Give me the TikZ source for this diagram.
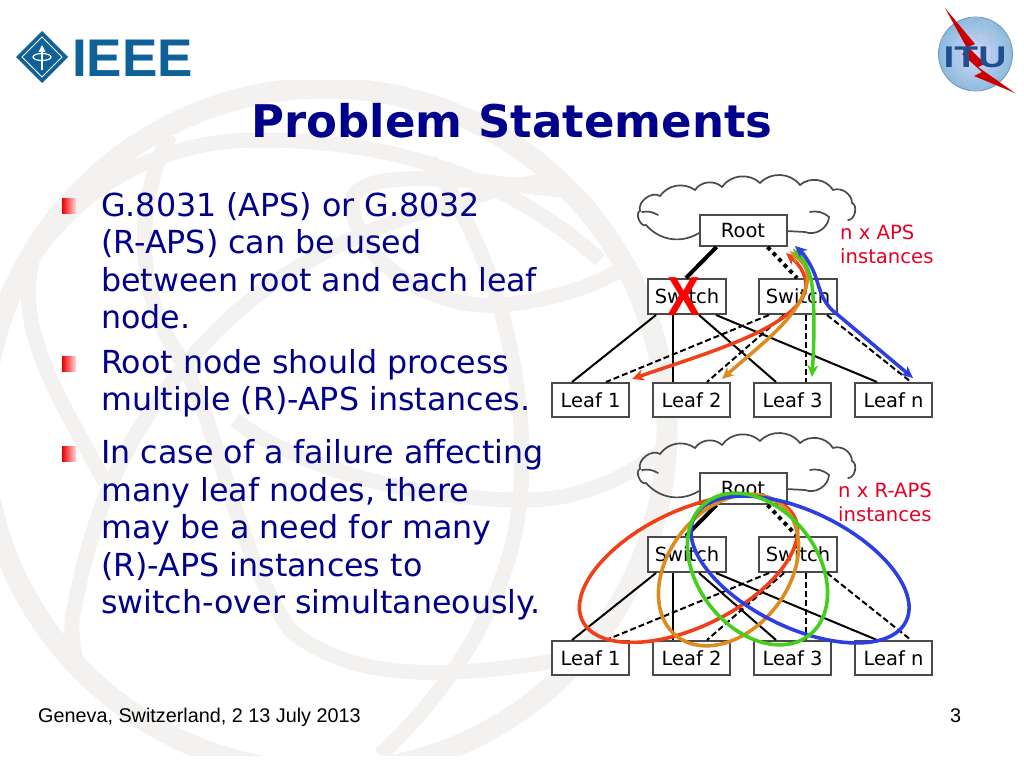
\documentclass[tikz,border=0pt]{standalone}
\usepackage{fontspec}
\setmainfont{DejaVu Sans}
\newfontfamily\arialf{Liberation Sans}
\usetikzlibrary{arrows.meta,calc}
\definecolor{bgband}{HTML}{F3F2F0}
\definecolor{bodyblue}{HTML}{00008C}
\definecolor{boxgray}{HTML}{4A4A4A}
\definecolor{lblred}{HTML}{E60026}
\definecolor{arrred}{HTML}{F0401A}
\definecolor{arrorange}{HTML}{DC8C1E}
\definecolor{arrgreen}{HTML}{44CF1E}
\definecolor{arrblue}{HTML}{2D3FE0}
\definecolor{ieeeblue}{HTML}{0F6199}
\definecolor{itublue}{HTML}{1F4F8F}
\tikzset{
  x=1pt,y=-1pt,
  band/.style={draw=bgband,line width=19pt,line cap=butt},
  bodytext/.style={anchor=base west,inner sep=0,yshift=-1pt,text=bodyblue,font=\fontsize{31.7}{38}\selectfont},
  foot/.style={anchor=base west,inner sep=0,text=black,font=\arialf\fontsize{19.8}{24}\selectfont},
  rootbox/.style={draw=boxgray,line width=2pt,fill=white,inner sep=0,minimum width=87pt,minimum height=31pt,font=\fontsize{19.5}{24}\selectfont},
  switchbox/.style={rootbox,minimum width=78pt,minimum height=35pt},
  leafbox/.style={rootbox,minimum width=77pt,minimum height=34pt},
  cloudline/.style={draw=boxgray,line width=1.7pt,line cap=round},
  solidlink/.style={draw=black,line width=2pt},
  dashlink/.style={draw=black,line width=2pt,dash pattern=on 6pt off 3pt},
  thicklink/.style={draw=black,line width=4pt},
  dotlink/.style={draw=black,line width=4pt,dash pattern=on 4pt off 4pt},
  inst/.style={anchor=base west,inner sep=0,text=lblred,font=\fontsize{19.6}{24}\selectfont},
  flow/.style={line width=3.5pt,{Stealth[length=12pt,width=11pt]}-{Stealth[length=12pt,width=11pt]}},
  ring/.style={line width=3.6pt},
  bullet/.style={inner sep=0,minimum width=14pt,minimum height=15pt,left color=red!92!black,right color=red!15,draw=none},
}
\newcommand{\netw}[3]{%
\begin{scope}[yshift=#2pt,name prefix=#1-]
  \draw[cloudline] (699,233) to[bend left=40] (646,225) to[bend left=95] (640,211)
    to[bend left=70] (660,196) to[bend left=45] (695,190) to[bend left=50] (722,187)
    to[bend left=50] (760,183) to[bend left=50] (800,185) to[bend left=50] (833,190)
    to[bend left=55] (852,203) to[bend left=80] (848,220);
  \draw[cloudline] (810,212) to[bend left=25] (829,217) to[bend left=55] (805,232) -- (786,231);
  \draw[cloudline] (658,215) to[bend right=20] (642,212);
  \node[rootbox] (root) at (743,#3) {Root};
  \node[switchbox] (s1) at (687,296.5) {Switch};
  \node[switchbox] (s2) at (798,296.5) {Switch};
  \node[leafbox] (l1) at (590.5,400) {Leaf 1};
  \node[leafbox] (l2) at (691.5,400) {Leaf 2};
  \node[leafbox] (l3) at (792.5,400) {Leaf 3};
  \node[leafbox] (ln) at (893.5,400) {Leaf n};
  \draw[thicklink] ([xshift=18pt]root.south west) -- ([xshift=39pt]s1.north west);
  \draw[dotlink] ([xshift=69pt]root.south west) -- ([xshift=39pt]s2.north west);
  \draw[solidlink] ([xshift=9pt]s1.south west) -- ([xshift=21pt]l1.north west);
  \draw[solidlink] ([xshift=26pt]s1.south west) -- ([xshift=21pt]l2.north west);
  \draw[solidlink] ([xshift=52pt]s1.south west) -- ([xshift=23pt]l3.north west);
  \draw[solidlink] ([xshift=69pt]s1.south west) -- ([xshift=23pt]ln.north west);
  \draw[dashlink] ([xshift=11pt]s2.south west) -- ([xshift=55pt]l1.north west);
  \draw[dashlink] ([xshift=26pt]s2.south west) -- ([xshift=55pt]l2.north west);
  \draw[dashlink] ([xshift=48pt]s2.south west) -- ([xshift=53pt]l3.north west);
  \draw[dashlink] ([xshift=69pt]s2.south west) -- ([xshift=57pt]ln.north west);
\end{scope}}
\begin{document}
\begin{tikzpicture}
\useasboundingbox (0,0) rectangle (1024,768);
\fill[white] (0,0) rectangle (1024,768);
% background globe
\begin{scope}
  \clip (-5,80) rectangle (700,755);
  \draw[band,line width=21pt] (325,430) circle[radius=342];
  \clip (325,430) circle[radius=342];
  \draw[band,line width=15pt] (30,262) .. controls (90,170) and (180,140) .. (260,140) .. controls (380,140) and (500,170) .. (600,260);
  \draw[band,line width=15pt] (600,170) .. controls (420,200) and (280,250) .. (190,360) .. controls (120,440) and (90,520) .. (72,620) .. controls (70,670) and (95,720) .. (125,755);
  \draw[band,line width=15pt] (600,195) .. controls (480,180) and (360,165) .. (352,200) .. controls (350,250) and (420,310) .. (500,305) .. controls (560,300) and (620,280) .. (660,240);
  \draw[band,line width=15pt] (170,135) .. controls (140,190) and (130,280) .. (175,350) .. controls (220,420) and (230,540) .. (290,630) .. controls (350,680) and (440,680) .. (560,660);
  \draw[band,line width=15pt] (32,262) .. controls (15,330) and (60,400) .. (105,482);
  \draw[band,line width=15pt] (-5,540) .. controls (30,610) and (90,700) .. (170,755);
  \draw[band,line width=15pt] (235,420) .. controls (300,470) and (420,500) .. (525,500) .. controls (590,500) and (640,470) .. (690,430);
  \draw[band,line width=15pt] (430,160) .. controls (500,260) and (530,390) .. (520,500) .. controls (510,600) and (450,690) .. (380,755);
\end{scope}
% IEEE logo
\fill[ieeeblue] (42,31) -- (68,57) -- (42,83) -- (16,57) -- cycle;
\draw[white,line width=1pt] (42,37) -- (62,57) -- (42,77) -- (22,57) -- cycle;
\draw[white,line width=1.5pt] (42,70) -- (42,50);
\fill[white] (42,45) -- (45.5,52) -- (38.5,52) -- cycle;
\draw[white,line width=1.2pt] (42,57) ellipse[x radius=9,y radius=3.5];
\node[anchor=base west,inner sep=0,text=ieeeblue,font=\arialf\bfseries\fontsize{53}{60}\selectfont] (ieee) at (72,77) {IEEE};
% ITU logo
\shade[inner color=white!85!blue,outer color=blue!40!cyan!55!gray!60!white] (975.5,54) circle[radius=37];
\draw[itublue!60,line width=.8pt] (975.5,54) circle[radius=37];
\draw[itublue!35,line width=.7pt] (975.5,54) ellipse[x radius=16,y radius=37];
\draw[itublue!35,line width=.7pt] (940,40) .. controls (960,30) and (995,30) .. (1010,42);
\draw[itublue!35,line width=.7pt] (985,32) circle[radius=11];
\draw[itublue!35,line width=.7pt] (945,72) .. controls (965,82) and (995,82) .. (1006,70);
\fill[red!80!black] (945,8) -- (975,44) -- (968,47) -- (985,64) -- (978,67) -- (1015,93) -- (974,76) -- (982,72) -- (962,54) -- (968,50) -- cycle;
\node[inner sep=0,text=itublue,font=\arialf\bfseries\fontsize{30}{36}\selectfont,xscale=1.3] (itu) at (975,57) {ITU};
% title
\node[anchor=base,inner sep=0,text=bodyblue,font=\bfseries\fontsize{45}{54}\selectfont] (title) at (512,137) {Problem Statements};
% bullets
\node[bullet] (b1) at (69,205.5) {};
\node[bullet] (b2) at (69,363.5) {};
\node[bullet] (b3) at (69,453.5) {};
% body
\node[bodytext] (t1) at (101,215) {G.8031 (APS) or G.8032};
\node[bodytext] (t2) at (101,252) {(R-APS) can be used};
\node[bodytext] (t3) at (101,290) {between root and each leaf};
\node[bodytext] (t4) at (101,327) {node.};
\node[bodytext] (t5) at (101,372) {Root node should process};
\node[bodytext] (t6) at (101,409) {multiple (R)-APS instances.};
\node[bodytext] (t7) at (101,462) {In case of a failure affecting};
\node[bodytext] (t8) at (101,500) {many leaf nodes, there};
\node[bodytext] (t9) at (101,537) {may be a need for many};
\node[bodytext] (t10) at (101,575) {(R)-APS instances to};
\node[bodytext] (t11) at (101,612) {switch-over simultaneously.};
% footer
\node[foot] (f1) at (38,722) {Geneva, Switzerland, 2 13 July 2013};
\node[foot] (f2) at (950,722) {3};
% networks
\netw{a}{0}{230.5}
\netw{b}{-258}{230.5}
% top labels
\node[inst] (i1) at (840,239) {n x APS};
\node[inst] (i2) at (840,263) {instances};
\node[inst] (i3) at (838,497) {n x R-APS};
\node[inst] (i4) at (838,521) {instances};
% failure mark
\node[inner sep=0,text=red,font=\arialf\bfseries\fontsize{55}{60}\selectfont,xscale=.9] (xmark) at (684,297) {X};
% top flows
\coordinate (rT) at (786,253);
\coordinate (rB) at (632,379);
\coordinate (oT) at (790,251);
\coordinate (oB) at (722,379);
\coordinate (gT) at (793,249);
\coordinate (gB) at (812,377);
\coordinate (uT) at (795,246);
\coordinate (uB) at (913,378);
\draw[flow,arrred] (rB) .. controls (700,355) and (792,330) .. (805,292) .. controls (809,278) and (800,265) .. (rT);
\draw[flow,arrorange] (oB) .. controls (760,345) and (796,320) .. (806,287) .. controls (811,270) and (803,262) .. (oT);
\draw[flow,arrgreen] (gB) .. controls (814,345) and (815,310) .. (812,285) .. controls (810,270) and (803,258) .. (gT);
\draw[flow,arrblue] (uB) -- (832,310) .. controls (822,300) and (820,290) .. (816,278) .. controls (813,268) and (805,255) .. (uT);
% ellipses
\draw[ring,arrred,rotate around={26:(688.5,569)}] (688.5,569) ellipse[x radius=118,y radius=58];
\draw[ring,arrorange,rotate around={52:(728.5,570)}] (728.5,570) ellipse[x radius=84,y radius=60];
\draw[ring,arrblue,rotate around={-26:(800,569.5)}] (800,569.5) ellipse[x radius=118,y radius=58];
\draw[ring,arrgreen,rotate around={-52:(757.5,569)}] (757.5,569) ellipse[x radius=84,y radius=60];
\end{tikzpicture}
\end{document}
